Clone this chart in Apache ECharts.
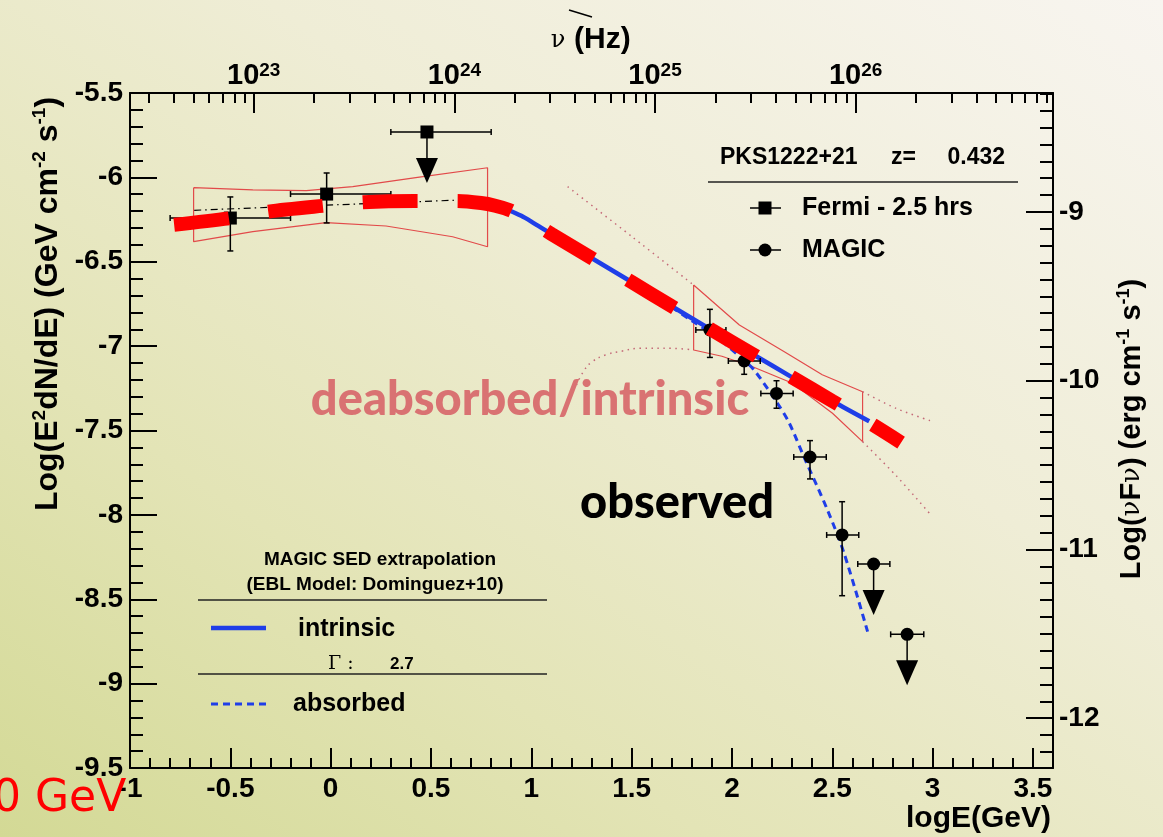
<!DOCTYPE html>
<html>
<head>
<meta charset="utf-8">
<title>PKS1222+21 SED</title>
<script src="https://cdn.jsdelivr.net/npm/echarts@6/dist/echarts.min.js"></script>
<style>
html, body { margin: 0; padding: 0; width: 1163px; height: 837px; overflow: hidden;
  background: linear-gradient(35deg, #d3d995 0%, #e3e4b6 30%, #efedd6 62%, #f8f5f0 100%); }
#chart { width: 1163px; height: 837px; }
</style>
</head>
<body>
<div id="chart"></div>
<script>
// unit conversions used by the secondary axes
const LOG_NU_PER_GEV = 23.3835;   // log10(nu/Hz) = logE(GeV) + this
const LOG_ERG_PER_GEV = -2.7953;  // log10(erg) = log10(GeV) + this

// axis ticks
const nuMajor = [23, 24, 25, 26];
const nuMantissa = [2, 3, 4, 5, 6, 7, 8, 9];
const ergMajor = [-12, -11, -10, -9];

// Fermi - 2.5 hrs (squares)
const fermiE   = [-0.50, -0.02, 0.48];
const fermiF   = [-6.241, -6.099, -5.731];
const fermiELo = [-0.80, -0.20, 0.30];
const fermiEHi = [-0.20, 0.30, 0.80];
const fermiFLo = [-6.436, -6.270, null];
const fermiFHi = [-6.116, -5.974, null];
const fermiUL  = [0, 0, 1];

// MAGIC (circles)
const magicE   = [1.890, 2.061, 2.222, 2.389, 2.549, 2.706, 2.873];
const magicF   = [-6.904, -7.088, -7.280, -7.657, -8.119, -8.291, -8.708];
const magicELo = [1.820, 1.982, 2.144, 2.308, 2.472, 2.627, 2.791];
const magicEHi = [1.970, 2.141, 2.305, 2.470, 2.632, 2.787, 2.956];
const magicFLo = [-7.067, -7.167, -7.368, -7.787, -8.479, null, null];
const magicFHi = [-6.782, -7.048, -7.205, -7.560, -7.922, null, null];
const magicUL  = [0, 0, 0, 0, 0, 1, 1];

// deabsorbed / intrinsic fit (thick red dashes)
const deabsE = [-0.78, -0.50, -0.31, -0.04, 0.16, 0.42, 0.63, 0.75, 0.82, 0.89, 0.95, 1.00, 1.10, 1.30, 1.50, 1.70, 1.90, 2.10, 2.30, 2.50, 2.70, 2.843];
const deabsF = [-6.281, -6.242, -6.203, -6.169, -6.148, -6.140, -6.140, -6.152, -6.168, -6.193, -6.228, -6.262, -6.335, -6.478, -6.620, -6.764, -6.905, -7.045, -7.185, -7.325, -7.465, -7.572];

// MAGIC SED extrapolation, intrinsic (blue solid)
const intrE = [0.88, 0.95, 1.00, 1.10, 1.30, 1.50, 1.70, 1.90, 2.10, 2.30, 2.50, 2.684];
const intrF = [-6.190, -6.228, -6.262, -6.335, -6.478, -6.620, -6.764, -6.905, -7.045, -7.185, -7.325, -7.445];

// absorbed (blue dashed)
const absE = [1.70, 1.80, 1.93, 2.06, 2.11, 2.226, 2.286, 2.359, 2.476, 2.559, 2.676];
const absF = [-6.770, -6.850, -6.952, -7.085, -7.141, -7.337, -7.457, -7.657, -7.971, -8.228, -8.692];

// Fermi fit (dash-dot)
const fermiFitE = [-0.68, 0.78];
const fermiFitF = [-6.195, -6.128];

// Fermi butterfly
const bfFermiE = [-0.683, -0.388, -0.122, 0.110, 0.442, 0.782, 0.782, 0.608, 0.276, -0.023, -0.388, -0.683, -0.683];
const bfFermiF = [-6.061, -6.074, -6.078, -6.055, -5.999, -5.943, -6.411, -6.352, -6.288, -6.268, -6.322, -6.381, -6.061];

// MAGIC butterfly
const bfMagicE = [1.809, 2.037, 2.261, 2.450, 2.651, 2.651, 2.501, 2.302, 2.103, 1.950, 1.809, 1.809];
const bfMagicF = [-6.638, -6.875, -7.033, -7.170, -7.270, -7.566, -7.398, -7.220, -7.122, -7.060, -7.023, -6.638];

// butterfly edges extended outside the fit range (dotted)
const upLeftE = [1.181, 1.50, 1.809];
const upLeftF = [-6.055, -6.350, -6.638];
const upRightE = [2.651, 2.82, 2.993];
const upRightF = [-7.270, -7.370, -7.444];
const loLeftE = [1.225, 1.26, 1.30, 1.37, 1.45, 1.54, 1.70, 1.809];
const loLeftF = [-7.230, -7.150, -7.095, -7.052, -7.030, -7.013, -7.013, -7.023];
const loRightE = [2.651, 2.82, 2.983];
const loRightF = [-7.566, -7.770, -7.989];

const pairs = (xs, ys) => xs.map((x, i) => [x, ys[i]]);
const pointRows = (e, f, elo, ehi, flo, fhi, ul) =>
  e.map((x, i) => [x, f[i], elo[i], ehi[i], flo[i] == null ? f[i] : flo[i], fhi[i] == null ? f[i] : fhi[i], ul[i]]);

const nuMinor = [];
[22, 23, 24, 25, 26].forEach(d => nuMantissa.forEach(m => {
  const v = d + Math.log10(m) - LOG_NU_PER_GEV;
  if (v > -1 && v < 3.6) nuMinor.push(v);
}));
const nuMajorPos = nuMajor.map(d => d - LOG_NU_PER_GEV);
const ergMajorPos = ergMajor.map(v => v - LOG_ERG_PER_GEV);
const ergMinorPos = [];
for (let k = -122; k <= -83; k++) {
  if (k % 10 !== 0) ergMinorPos.push(k / 10 - LOG_ERG_PER_GEV);
}

const FONT = 'Liberation Sans';
const black = '#000';

function pointRenderer(marker) {
  return function (params, api) {
    const p = api.coord([api.value(0), api.value(1)]);
    const lo = api.coord([api.value(2), api.value(1)]);
    const hi = api.coord([api.value(3), api.value(1)]);
    const st = { stroke: black, lineWidth: 1.5 };
    const kids = [
      { type: 'line', shape: { x1: lo[0], y1: p[1], x2: hi[0], y2: p[1] }, style: st },
      { type: 'line', shape: { x1: lo[0], y1: p[1] - 3, x2: lo[0], y2: p[1] + 3 }, style: st },
      { type: 'line', shape: { x1: hi[0], y1: p[1] - 3, x2: hi[0], y2: p[1] + 3 }, style: st }
    ];
    if (api.value(6) === 1) {
      kids.push({ type: 'line', shape: { x1: p[0], y1: p[1], x2: p[0], y2: p[1] + 27 }, style: st });
      kids.push({ type: 'polygon', shape: { points: [[p[0] - 11, p[1] + 26], [p[0] + 11, p[1] + 26], [p[0], p[1] + 51]] }, style: { fill: black } });
    } else {
      const top = api.coord([api.value(0), api.value(5)]);
      const bot = api.coord([api.value(0), api.value(4)]);
      kids.push({ type: 'line', shape: { x1: p[0], y1: top[1], x2: p[0], y2: bot[1] }, style: st });
      kids.push({ type: 'line', shape: { x1: p[0] - 3, y1: top[1], x2: p[0] + 3, y2: top[1] }, style: st });
      kids.push({ type: 'line', shape: { x1: p[0] - 3, y1: bot[1], x2: p[0] + 3, y2: bot[1] }, style: st });
    }
    if (marker === 'rect') {
      kids.push({ type: 'rect', shape: { x: p[0] - 6.5, y: p[1] - 6.5, width: 13, height: 13 }, style: { fill: black } });
    } else {
      kids.push({ type: 'circle', shape: { cx: p[0], cy: p[1], r: 6.5 }, style: { fill: black } });
    }
    return { type: 'group', children: kids };
  };
}

function curve(name, xs, ys, color, width, type, z, smooth) {
  return {
    name: name, type: 'line', data: pairs(xs, ys), symbol: 'none', smooth: smooth || false,
    lineStyle: { color: color, width: width, type: type, cap: 'butt' }, z: z, silent: true
  };
}

function txt(x, y, text, size, extra) {
  return Object.assign({
    type: 'text', x: x, y: y, z: 100, silent: true,
    style: Object.assign({ text: text, fontSize: size, fontFamily: FONT, fontWeight: 'bold', fill: black, align: 'left', verticalAlign: 'middle' }, (extra && extra.style) || {})
  }, extra && extra.rotation ? { rotation: extra.rotation } : {});
}
function hline(x1, x2, y, color, width, dash) {
  return { type: 'line', z: 100, silent: true, shape: { x1: x1, y1: y, x2: x2, y2: y },
    style: { stroke: color, lineWidth: width, lineDash: dash || null } };
}

const axisLine = { show: true, onZero: false, lineStyle: { color: black, width: 2 } };
const noLine = { show: false, onZero: false };
const tickLabel = { fontFamily: FONT, fontWeight: 'bold', fontSize: 28, color: black };

const option = {
  animation: false,
  backgroundColor: 'transparent',
  grid: { left: 130, right: 110, top: 93, bottom: 69 },
  xAxis: [
    { type: 'value', position: 'bottom', min: -1, max: 3.6, interval: 0.5, axisLine: axisLine,
      axisTick: { inside: true, length: 20, lineStyle: { color: black, width: 2 } },
      axisLabel: Object.assign({ margin: 7, showMaxLabel: false, showMinLabel: true }, tickLabel),
      splitLine: { show: false } },
    { type: 'value', position: 'bottom', min: -1, max: 3.6, interval: 0.1, axisLine: noLine,
      axisTick: { inside: true, length: 10, lineStyle: { color: black, width: 2 } },
      axisLabel: { show: false }, splitLine: { show: false } },
    { type: 'value', position: 'top', min: -1, max: 3.6, axisLine: axisLine,
      axisTick: { inside: true, length: 20, customValues: nuMajorPos, lineStyle: { color: black, width: 2 } },
      axisLabel: { margin: 2, customValues: nuMajorPos,
        formatter: v => '{b|10}{s|' + Math.round(v + LOG_NU_PER_GEV) + '}',
        rich: { b: { fontFamily: FONT, fontWeight: 'bold', fontSize: 29, color: black, lineHeight: 30 },
                s: { fontFamily: FONT, fontWeight: 'bold', fontSize: 19, color: black, lineHeight: 18, verticalAlign: 'top' } } },
      splitLine: { show: false } },
    { type: 'value', position: 'top', min: -1, max: 3.6, axisLine: noLine,
      axisTick: { inside: true, length: 10, customValues: nuMinor, lineStyle: { color: black, width: 2 } },
      axisLabel: { show: false }, splitLine: { show: false } }
  ],
  yAxis: [
    { type: 'value', position: 'left', min: -9.5, max: -5.5, interval: 0.5, axisLine: axisLine,
      axisTick: { inside: true, length: 27, lineStyle: { color: black, width: 2 } },
      axisLabel: Object.assign({ margin: 7 }, tickLabel), splitLine: { show: false } },
    { type: 'value', position: 'left', min: -9.5, max: -5.5, interval: 0.1, axisLine: noLine,
      axisTick: { inside: true, length: 13, lineStyle: { color: black, width: 2 } },
      axisLabel: { show: false }, splitLine: { show: false } },
    { type: 'value', position: 'right', min: -9.5, max: -5.5, axisLine: axisLine,
      axisTick: { inside: true, length: 27, customValues: ergMajorPos, lineStyle: { color: black, width: 2 } },
      axisLabel: Object.assign({ margin: 6, customValues: ergMajorPos,
        formatter: v => String(Math.round(v + LOG_ERG_PER_GEV)) }, tickLabel),
      splitLine: { show: false } },
    { type: 'value', position: 'right', min: -9.5, max: -5.5, axisLine: noLine,
      axisTick: { inside: true, length: 13, customValues: ergMinorPos, lineStyle: { color: black, width: 2 } },
      axisLabel: { show: false }, splitLine: { show: false } }
  ],
  series: [
    curve('Fermi butterfly', bfFermiE, bfFermiF, '#e24a4a', 1.2, 'solid', 2),
    curve('MAGIC butterfly', bfMagicE, bfMagicF, '#e24a4a', 1.2, 'solid', 2),
    curve('upper left', upLeftE, upLeftF, '#c46a78', 1.5, [1.5, 4.5], 2, 0.3),
    curve('upper right', upRightE, upRightF, '#c46a78', 1.5, [1.5, 4.5], 2, 0.3),
    curve('lower left', loLeftE, loLeftF, '#c46a78', 1.5, [1.5, 4.5], 2, 0.4),
    curve('lower right', loRightE, loRightF, '#c46a78', 1.5, [1.5, 4.5], 2, 0.3),
    curve('Fermi fit', fermiFitE, fermiFitF, '#000', 1.2, [7, 4, 1.5, 4], 3),
    curve('absorbed', absE, absF, '#1f3ee8', 3, [7, 5], 4, 0.3),
    curve('intrinsic', intrE, intrF, '#1f3ee8', 4.5, 'solid', 4, 0.3),
    { name: 'Fermi', type: 'custom', renderItem: pointRenderer('rect'), z: 6, silent: true,
      encode: { x: [0, 2, 3], y: [1, 4, 5] },
      data: pointRows(fermiE, fermiF, fermiELo, fermiEHi, fermiFLo, fermiFHi, fermiUL) },
    { name: 'MAGIC', type: 'custom', renderItem: pointRenderer('circle'), z: 6, silent: true,
      encode: { x: [0, 2, 3], y: [1, 4, 5] },
      data: pointRows(magicE, magicF, magicELo, magicEHi, magicFLo, magicFHi, magicUL) },
    curve('deabsorbed/intrinsic', deabsE, deabsF, '#ff0000', 14, [55, 40], 10, 0.3)
  ],
  graphic: [
    // axis titles
    txt(48, 304, 'Log(E{sup|2}dN/dE) (GeV cm{sup|-2} s{sup|-1})', 32, {
      rotation: Math.PI / 2,
      style: { align: 'center', lineHeight: 36,
        rich: { sup: { fontFamily: FONT, fontWeight: 'bold', fontSize: 19, lineHeight: 18, verticalAlign: 'top' } } } }),
    txt(1132, 429, 'Log({g|ν}F{g|ν}) (erg cm{sup|-1} s{sup|-1})', 29, {
      rotation: Math.PI / 2,
      style: { align: 'center', lineHeight: 34,
        rich: { sup: { fontFamily: FONT, fontWeight: 'bold', fontSize: 18, lineHeight: 17, verticalAlign: 'top' },
                g: { fontFamily: 'DejaVu Serif', fontWeight: 'normal', fontSize: 26, lineHeight: 34 } } } }),
    txt(1051, 819, 'logE(GeV)', 30, { style: { align: 'right' } }),
    txt(558, 41, 'ν', 24, { style: { align: 'center', fontFamily: 'DejaVu Serif', fontWeight: 'normal' } }),
    txt(574, 40, '(Hz)', 30),
    { type: 'line', z: 100, silent: true, shape: { x1: 569, y1: 10, x2: 592, y2: 17 }, style: { stroke: black, lineWidth: 1.5 } },

    // source legend
    txt(720, 158, 'PKS1222+21', 23),
    txt(891, 158, 'z=', 23),
    txt(1005, 158, '0.432', 23, { style: { align: 'right' } }),
    hline(708, 1018, 182, '#222', 1.5),
    hline(750, 781, 208, black, 1.5),
    { type: 'rect', z: 100, silent: true, shape: { x: 758.5, y: 201.5, width: 13, height: 13 }, style: { fill: black } },
    txt(802, 208, 'Fermi - 2.5 hrs', 25),
    hline(750, 781, 250, black, 1.5),
    { type: 'circle', z: 100, silent: true, shape: { cx: 765, cy: 250, r: 6.5 }, style: { fill: black } },
    txt(802, 250, 'MAGIC', 25),

    // extrapolation legend
    txt(380, 560, 'MAGIC SED extrapolation', 19, { style: { align: 'center' } }),
    txt(375, 585, '(EBL Model: Dominguez+10)', 19, { style: { align: 'center' } }),
    hline(198, 547, 600, '#222', 1.5),
    hline(211, 266, 628, '#1f3ee8', 4.5),
    txt(298, 629, 'intrinsic', 25),
    txt(328, 664, 'Γ :', 19, { style: { fontFamily: 'DejaVu Serif', fontWeight: 'normal' } }),
    txt(390, 664, '2.7', 17),
    hline(198, 547, 674, '#222', 1.5),
    hline(211, 266, 704, '#1f3ee8', 3, [7, 5]),
    txt(293, 704, 'absorbed', 25),

    // slide annotations
    txt(530, 400, 'deabsorbed/intrinsic', 47, { style: { align: 'center', fontFamily: 'Lato', fontWeight: 900, fill: '#d97272' } }),
    txt(677, 503, 'observed', 47, { style: { align: 'center', fontFamily: 'Lato', fontWeight: 900 } }),
    txt(-7, 800, '0 GeV', 44, { style: { fontFamily: 'DejaVu Sans', fontWeight: 'normal', fill: '#ff0000' } })
  ]
};

const chart = echarts.init(document.getElementById('chart'));
chart.setOption(option);
window.addEventListener('resize', () => chart.resize());
</script>
</body>
</html>
